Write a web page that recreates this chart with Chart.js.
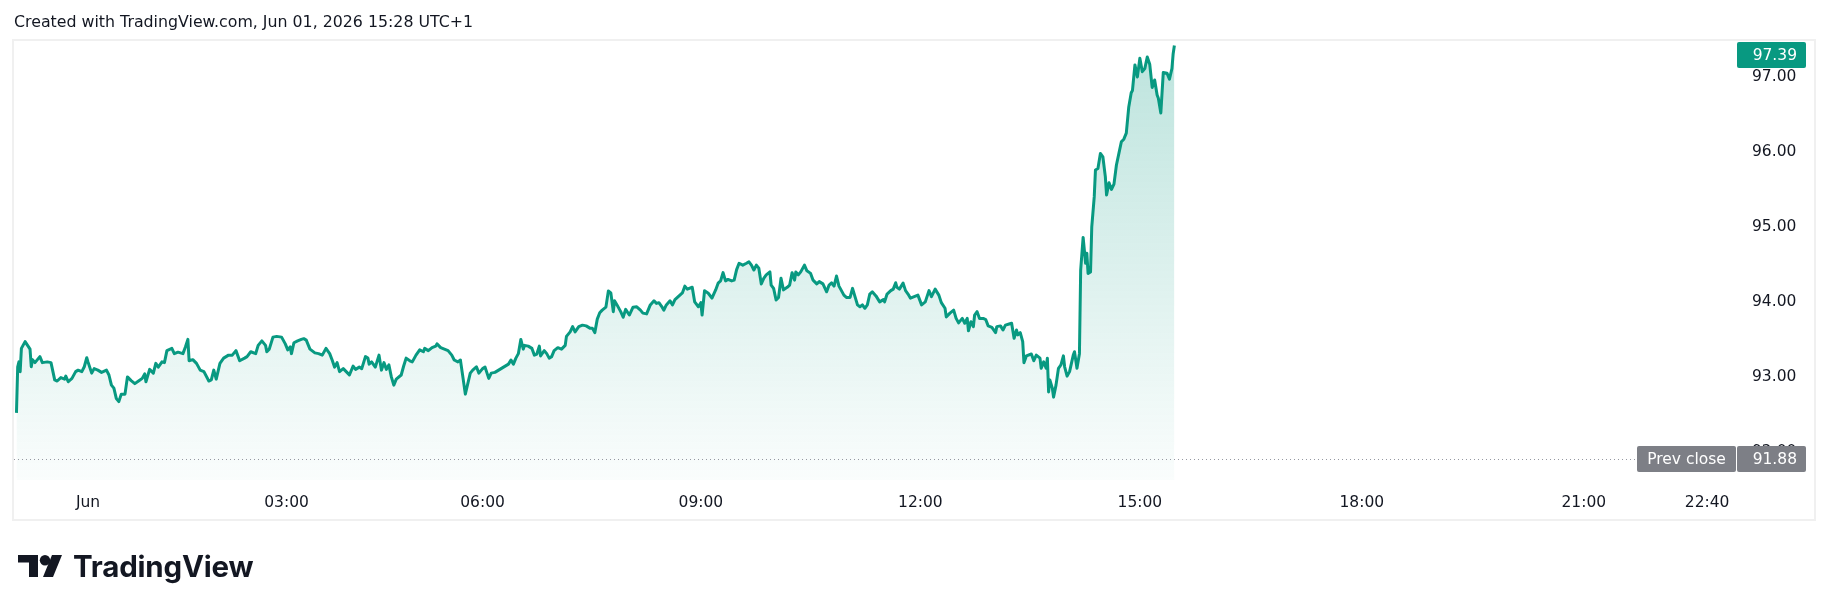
<!DOCTYPE html>
<html>
<head>
<meta charset="utf-8">
<script src="https://cdn.jsdelivr.net/npm/chart.js@4.4.0/dist/chart.umd.min.js"></script>
<style>
    html, body { margin: 0; padding: 0; background: #ffffff; }
    #wrap { position: relative; width: 1830px; height: 611px; overflow: hidden; }
    #hdr {
        position: absolute; left: 14px; top: 12px; line-height: 20px;
        font-family: "DejaVu Sans", sans-serif; font-size: 15.8px; color: #131722;
        white-space: nowrap;
    }
    #logo { position: absolute; left: 18px; top: 555px; height: 22px; display: flex; align-items: flex-start; }
    #logo svg { display: block; }
    #logo span {
        margin-left: 11px; margin-top: -6px;
        font-family: Inter, sans-serif; font-weight: 700; font-size: 29.5px; line-height: 34px;
        color: #131722; letter-spacing: -0.2px;
    }
    canvas { position: absolute; left: 0; top: 0; }
</style>
</head>
<body>
<div id="wrap">
    <canvas id="chart" width="1830" height="611"></canvas>
    <div id="hdr">Created with TradingView.com, Jun 01, 2026 15:28 UTC+1</div>
    <div id="logo">
        <svg width="44" height="22" viewBox="0 0 44 22">
            <path d="M0 0H20V22H11V7.5H0Z" fill="#131722"/>
            <circle cx="27" cy="5.2" r="5.2" fill="#131722"/>
            <path d="M34 0H44L35 22H25Z" fill="#131722"/>
        </svg>
        <span>TradingView</span>
    </div>
</div>
<script>
// Bar index (1-minute bars since session open, 23:00 May 31) and close price
const bars = [
    1, 2, 3, 4, 5, 8, 10, 12, 13, 14, 16, 18, 20, 22, 26, 29, 32, 34, 37, 40,
    41, 43, 46, 49, 51, 54, 56, 58, 59, 62, 64, 67, 70, 74, 76, 78, 80, 82, 84, 86,
    89, 91, 94, 97, 100, 103, 105, 106, 109, 112, 114, 116, 119, 121, 123, 127, 129, 132, 136, 138,
    140, 141, 144, 147, 150, 153, 157, 159, 161, 163, 166, 169, 173, 176, 179, 182, 186, 188, 191, 195,
    197, 200, 203, 204, 206, 209, 212, 216, 219, 221, 223, 224, 226, 229, 232, 234, 236, 239, 243, 246,
    249, 252, 255, 257, 259, 261, 263, 266, 269, 271, 274, 276, 279, 281, 284, 286, 287, 289, 292, 295,
    297, 299, 301, 303, 305, 307, 309, 313, 315, 317, 320, 322, 325, 328, 331, 332, 335, 338, 341, 342,
    345, 348, 351, 354, 356, 359, 361, 363, 365, 367, 369, 371, 374, 376, 379, 381, 384, 386, 389, 393,
    396, 400, 402, 404, 406, 408, 410, 412, 413, 416, 419, 421, 423, 425, 426, 429, 431, 433, 435, 437,
    440, 443, 446, 447, 450, 452, 454, 457, 460, 463, 466, 468, 470, 472, 474, 476, 479, 481, 483, 485,
    486, 488, 491, 493, 495, 498, 501, 504, 507, 509, 512, 515, 518, 520, 522, 524, 526, 528, 531, 533,
    535, 537, 539, 541, 543, 545, 549, 551, 554, 556, 557, 559, 562, 565, 568, 570, 572, 574, 576, 578,
    581, 583, 585, 587, 590, 593, 595, 597, 599, 601, 603, 605, 607, 609, 612, 613, 615, 617, 619, 621,
    623, 626, 628, 630, 632, 633, 635, 637, 640, 642, 645, 647, 650, 652, 655, 658, 660, 662, 664, 666,
    668, 669, 672, 674, 677, 679, 681, 683, 685, 687, 689, 691, 693, 695, 698, 701, 704, 705, 707, 710,
    712, 714, 715, 717, 720, 722, 724, 726, 729, 732, 735, 738, 741, 743, 746, 749, 751, 754, 755, 758,
    761, 763, 765, 768, 770, 772, 773, 775, 777, 778, 780, 782, 785, 787, 789, 792, 795, 796, 799, 801,
    803, 806, 808, 810, 812, 813, 815, 817, 818, 820, 824, 826, 828, 831, 832, 834, 836, 837, 838, 839,
    841, 842, 844, 846, 848, 850, 851, 853, 855, 858, 859, 861, 863, 864, 866, 868, 869, 870, 872, 873,
    875, 876, 878, 880, 882, 884, 885, 887, 889, 891, 893, 895, 897, 899, 901, 903, 905, 906, 908, 910,
    912, 914, 916, 918, 920, 922, 924, 926, 927, 929, 931, 934, 936, 938, 939, 940
];
const prices = [
    92.49, 93.105, 93.17, 93.04, 93.35, 93.44, 93.39, 93.34, 93.105, 93.20, 93.16, 93.20, 93.24, 93.16, 93.17, 93.16, 92.93, 92.915, 92.96, 92.94,
    92.98, 92.905, 92.95, 93.04, 93.06, 93.04, 93.105, 93.225, 93.17, 93.02, 93.08, 93.06, 93.03, 93.06, 92.995, 92.86, 92.82, 92.68, 92.64, 92.74,
    92.74, 92.97, 92.92, 92.88, 92.915, 92.95, 93.01, 92.905, 93.07, 93.02, 93.15, 93.10, 93.17, 93.16, 93.32, 93.35, 93.28, 93.30, 93.28, 93.37,
    93.47, 93.185, 93.20, 93.15, 93.06, 93.04, 92.915, 92.93, 93.06, 92.94, 93.15, 93.22, 93.26, 93.26, 93.32, 93.185, 93.22, 93.24, 93.305, 93.28,
    93.39, 93.45, 93.39, 93.305, 93.34, 93.50, 93.51, 93.50, 93.41, 93.33, 93.37, 93.28, 93.425, 93.45, 93.47, 93.48, 93.46, 93.34, 93.29, 93.28,
    93.26, 93.35, 93.28, 93.195, 93.10, 93.16, 93.04, 93.08, 93.03, 92.995, 93.115, 93.07, 93.10, 93.08, 93.24, 93.22, 93.14, 93.17, 93.10, 93.26,
    93.06, 93.16, 93.07, 93.13, 92.97, 92.86, 92.94, 92.995, 93.115, 93.22, 93.185, 93.17, 93.26, 93.33, 93.305, 93.35, 93.32, 93.36, 93.38, 93.41,
    93.36, 93.34, 93.32, 93.26, 93.195, 93.17, 93.195, 92.97, 92.74, 92.88, 93.02, 93.06, 93.105, 93.02, 93.08, 93.10, 92.95, 93.02, 93.03, 93.07,
    93.10, 93.14, 93.195, 93.14, 93.22, 93.28, 93.47, 93.34, 93.39, 93.38, 93.35, 93.26, 93.275, 93.38, 93.25, 93.32, 93.28, 93.22, 93.24, 93.32,
    93.36, 93.34, 93.39, 93.51, 93.57, 93.64, 93.57, 93.64, 93.66, 93.65, 93.62, 93.62, 93.56, 93.74, 93.825, 93.86, 93.90, 94.115, 94.09, 93.84,
    93.985, 93.93, 93.84, 93.765, 93.87, 93.795, 93.90, 93.905, 93.86, 93.82, 93.81, 93.93, 93.985, 93.95, 93.96, 93.915, 93.86, 93.93, 93.985, 93.93,
    94.00, 94.03, 94.06, 94.09, 94.18, 94.14, 94.165, 93.97, 93.905, 93.96, 93.795, 94.12, 94.085, 94.02, 94.13, 94.22, 94.25, 94.36, 94.25, 94.27,
    94.25, 94.26, 94.40, 94.485, 94.46, 94.485, 94.505, 94.46, 94.395, 94.46, 94.42, 94.21, 94.285, 94.33, 94.37, 94.195, 94.15, 93.995, 94.03, 94.285,
    94.13, 94.165, 94.195, 94.36, 94.26, 94.37, 94.33, 94.37, 94.46, 94.385, 94.35, 94.26, 94.21, 94.24, 94.21, 94.105, 94.195, 94.225, 94.18, 94.315,
    94.18, 94.15, 94.06, 94.03, 94.03, 94.15, 94.04, 93.93, 93.905, 93.93, 93.885, 93.93, 94.075, 94.105, 94.05, 93.97, 94.00, 93.97, 94.075, 94.12,
    94.14, 94.225, 94.165, 94.14, 94.22, 94.12, 94.075, 94.02, 94.04, 94.06, 93.93, 93.97, 94.12, 94.04, 94.14, 94.06, 93.96, 93.885, 93.77, 93.82,
    93.86, 93.75, 93.69, 93.75, 93.685, 93.75, 93.585, 93.705, 93.64, 93.795, 93.84, 93.75, 93.75, 93.735, 93.65, 93.63, 93.56, 93.64, 93.65, 93.595,
    93.66, 93.675, 93.685, 93.485, 93.595, 93.53, 93.56, 93.44, 93.16, 93.25, 93.275, 93.185, 93.26, 93.22, 93.085, 93.17, 93.085, 93.22, 92.77, 92.93,
    92.82, 92.70, 92.86, 93.085, 93.13, 93.25, 93.105, 92.98, 93.04, 93.26, 93.305, 93.085, 93.28, 94.395, 94.83, 94.485, 94.62, 94.35, 94.37, 94.97,
    95.37, 95.73, 95.75, 95.95, 95.905, 95.64, 95.395, 95.56, 95.47, 95.54, 95.795, 95.95, 96.105, 96.14, 96.22, 96.57, 96.76, 96.79, 97.13, 96.97,
    97.22, 97.04, 97.08, 97.235, 97.14, 96.83, 96.93, 96.73, 96.685, 96.49, 97.03, 97.02, 96.94, 97.08, 97.28, 97.39
];

// Time scale labels (placed on bar index) and price scale labels
const tickBars = [59, 220, 379, 556, 734, 912, 1092, 1272, 1372];
const tickLabels = ['Jun', '03:00', '06:00', '09:00', '12:00', '15:00', '18:00', '21:00', '22:40'];
const priceTicks = [92, 93, 94, 95, 96, 97];

const prevClose = 91.88;
const lastPrice = 97.39;
const xRange = [-1, 1393];
const yRange = [91.595, 97.449];

const lineColor = '#089981';
const textColor = '#131722';
const axisFont = { family: 'DejaVu Sans', size: 15.5 };

// Extra drawing: pane frame, prev close line and the price tags
const tvExtras = {
    id: 'tvExtras',
    beforeDraw(chart) {
        const { ctx, chartArea } = chart;
        const xs = chart.scales.x;
        const ys = chart.scales.y;
        ctx.save();
        ctx.strokeStyle = '#f0f0f0';
        ctx.lineWidth = 2;
        ctx.strokeRect(chartArea.left - 1, chartArea.top - 1, ys.right - chartArea.left + 1, xs.bottom - chartArea.top + 1);
        ctx.restore();
    },
    afterDatasetsDraw(chart) {
        const { ctx, chartArea } = chart;
        const py = Math.round(chart.scales.y.getPixelForValue(prevClose)) + 0.5;
        ctx.save();
        ctx.strokeStyle = '#9598a1';
        ctx.lineWidth = 1;
        ctx.setLineDash([1, 3]);
        ctx.beginPath();
        ctx.moveTo(chartArea.left, py);
        ctx.lineTo(chartArea.right, py);
        ctx.stroke();
        ctx.restore();
    },
    afterDraw(chart) {
        const { ctx, chartArea } = chart;
        const ys = chart.scales.y;
        const h = 26;

        const tag = (x0, x1, yc, fill, text, align, tx) => {
            ctx.fillStyle = fill;
            ctx.beginPath();
            ctx.roundRect(x0, Math.round(yc - h / 2), x1 - x0, h, 2);
            ctx.fill();
            ctx.fillStyle = '#ffffff';
            ctx.font = '15.5px "DejaVu Sans"';
            ctx.textAlign = align;
            ctx.textBaseline = 'middle';
            ctx.fillText(text, tx, Math.round(yc - h / 2) + h / 2 + 1);
        };

        ctx.save();
        // last price tag, kept inside the pane
        let ly = ys.getPixelForValue(lastPrice);
        ly = Math.max(ly, chartArea.top + 1 + h / 2);
        tag(ys.left + 4, ys.left + 73, ly, lineColor, lastPrice.toFixed(2), 'right', ys.left + 64);

        // prev close tags
        const py = ys.getPixelForValue(prevClose);
        tag(ys.left - 96, ys.left + 3, py, '#7d7f86', 'Prev close', 'center', ys.left - 46.5);
        tag(ys.left + 4, ys.left + 73, py, '#7d7f86', prevClose.toFixed(2), 'right', ys.left + 64);
        ctx.restore();
    }
};

const ctx = document.getElementById('chart').getContext('2d');
new Chart(ctx, {
    type: 'line',
    data: {
        datasets: [{
            data: bars.map((b, i) => ({ x: b, y: prices[i] })),
            borderColor: lineColor,
            borderWidth: 3,
            borderJoinStyle: 'round',
            pointRadius: 0,
            tension: 0,
            fill: 'start',
            backgroundColor: (context) => {
                const area = context.chart.chartArea;
                if (!area) return 'rgba(8, 153, 129, 0.15)';
                const g = context.chart.ctx.createLinearGradient(0, area.top, 0, area.bottom);
                g.addColorStop(0, 'rgba(8, 153, 129, 0.27)');
                g.addColorStop(1, 'rgba(8, 153, 129, 0.02)');
                return g;
            },
        }],
    },
    options: {
        responsive: false,
        animation: false,
        devicePixelRatio: 1,
        layout: { padding: { left: 14, top: 41, right: 15, bottom: 91 } },
        plugins: { legend: { display: false }, tooltip: { enabled: false } },
        scales: {
            x: {
                type: 'linear',
                position: 'bottom',
                min: xRange[0],
                max: xRange[1],
                grid: { display: false, drawTicks: false },
                border: { display: false },
                afterFit: (scale) => { scale.height = 40; },
                afterBuildTicks: (scale) => { scale.ticks = tickBars.map(v => ({ value: v })); },
                ticks: {
                    autoSkip: false,
                    maxRotation: 0,
                    padding: 14,
                    color: textColor,
                    font: axisFont,
                    callback: (value) => tickLabels[tickBars.indexOf(value)] ?? '',
                },
            },
            y: {
                type: 'linear',
                position: 'right',
                min: yRange[0],
                max: yRange[1],
                grid: { display: false, drawTicks: false },
                border: { display: false },
                afterFit: (scale) => { scale.width = 82; },
                afterBuildTicks: (scale) => { scale.ticks = priceTicks.map(v => ({ value: v })); },
                ticks: {
                    padding: 19,
                    labelOffset: 2,
                    color: textColor,
                    font: axisFont,
                    callback: (value) => value.toFixed(2),
                },
            },
        },
    },
    plugins: [tvExtras],
});
</script>
</body>
</html>
